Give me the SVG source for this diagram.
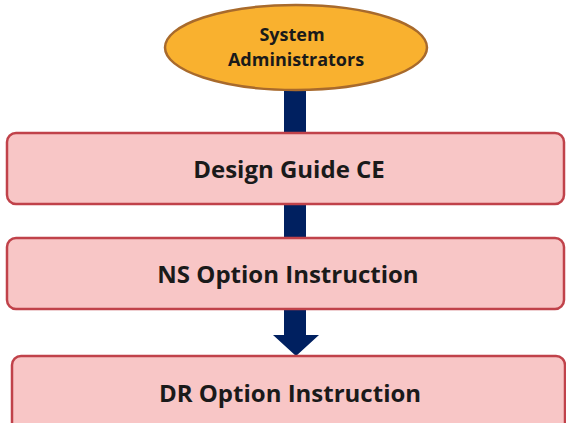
<svg xmlns="http://www.w3.org/2000/svg" width="566" height="423" viewBox="0 0 566 423">
<style>
.box{fill:#F8C6C6;stroke:#C0424A;stroke-width:2.5}
.lbl{font-family:"Open Sans","Liberation Sans",sans-serif;font-weight:bold;font-size:24px;fill:#1a1a1a;text-anchor:middle}
.ell{font-family:"Open Sans","Liberation Sans",sans-serif;font-weight:bold;font-size:18px;fill:#1a1a1a;text-anchor:middle}
</style>
<rect width="566" height="423" fill="#ffffff"/>
<g id="connectors">
<path d="M284,88 L306,88 L306,335 L319,335 L296,356 L273,335 L284,335 Z" fill="#002060"/>
</g>
<g id="system-administrators">
<ellipse cx="296" cy="47.5" rx="131" ry="42.5" fill="#F9B12F" stroke="#A86A2C" stroke-width="2.5"/>
<text class="ell" x="292" y="41">System</text>
<text class="ell" x="296" y="66">Administrators</text>
</g>
<g id="design-guide-ce">
<rect class="box" x="7" y="133" width="557" height="71" rx="9"/>
<text class="lbl" x="289" y="178">Design Guide CE</text>
</g>
<g id="ns-option-instruction">
<rect class="box" x="7" y="238" width="557" height="71" rx="9"/>
<text class="lbl" x="288" y="283">NS Option Instruction</text>
</g>
<g id="dr-option-instruction">
<rect class="box" x="12" y="356" width="553" height="90" rx="9"/>
<text class="lbl" x="290" y="402">DR Option Instruction</text>
</g>
</svg>
